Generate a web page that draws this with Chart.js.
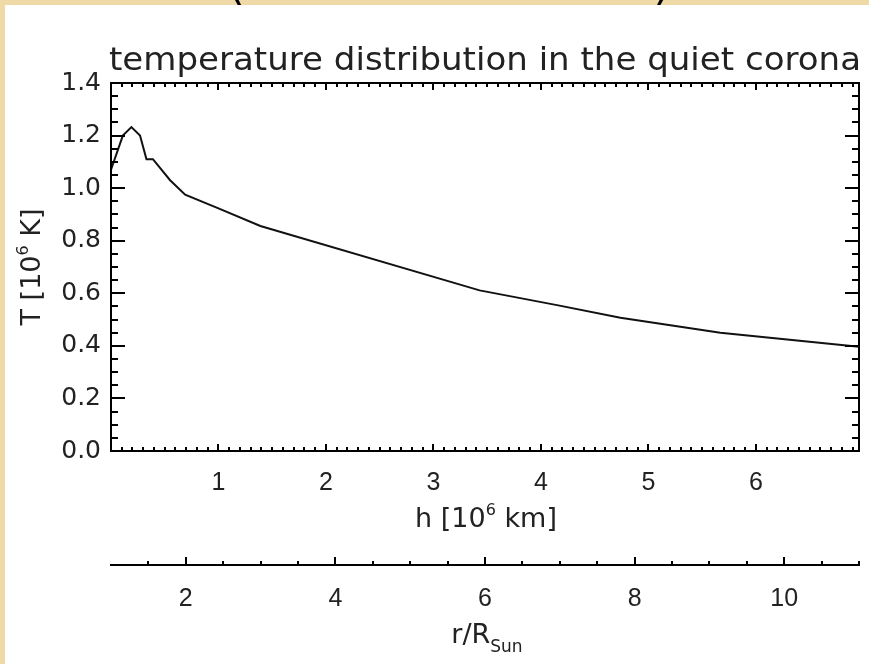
<!DOCTYPE html>
<html>
<head>
<meta charset="utf-8">
<script src="https://cdn.jsdelivr.net/npm/chart.js@4"></script>
<style>
  body { margin: 0; background: #efd9a7; }
  canvas { display: block; }
</style>
</head>
<body>
<canvas id="tempChart" width="869" height="664"></canvas>
<script>
// height above photosphere [10^6 km] and temperature [10^6 K]
const heightMm = [0.0, 0.11, 0.19, 0.27, 0.33, 0.39, 0.55, 0.69, 1.0, 1.39, 3.43, 4.15, 4.74, 5.67, 6.96];
const tempMK = [1.07, 1.20, 1.232, 1.20, 1.11, 1.11, 1.03, 0.975, 0.923, 0.856, 0.611, 0.555, 0.507, 0.45, 0.397];

const hTicks = [1, 2, 3, 4, 5, 6];
const rTicks = [2, 4, 6, 8, 10];
const tTicks = [0, 0.2, 0.4, 0.6, 0.8, 1.0, 1.2, 1.4];

const rSun = 0.696;      // 10^6 km
const hMax = 6.96;       // r/R_sun = 11
const chartTitle = "temperature distribution in the quiet corona";

const xTickFont = { family: "'Liberation Sans', 'DejaVu Sans', sans-serif", size: 25 };
const yTickFont = { family: "'DejaVu Sans', sans-serif", size: 25 };
const textFont = "'DejaVu Sans', sans-serif";

// text with super/subscript parts: [text, sizeFactor, shift]
function drawRich(ctx, parts, x, y, size, rotate) {
    ctx.save();
    ctx.translate(x, y);
    if (rotate) ctx.rotate(-Math.PI / 2);
    let total = 0;
    for (const p of parts) {
        ctx.font = `${Math.round(size * p[1])}px ${textFont}`;
        total += ctx.measureText(p[0]).width;
    }
    let cx = -total / 2;
    ctx.textAlign = "left";
    ctx.textBaseline = "alphabetic";
    for (const p of parts) {
        ctx.font = `${Math.round(size * p[1])}px ${textFont}`;
        ctx.fillText(p[0], cx, p[2] * size);
        cx += ctx.measureText(p[0]).width;
    }
    ctx.restore();
}

const idlFrame = {
    id: "idlFrame",
    beforeDraw(chart) {
        const ctx = chart.ctx;
        ctx.save();
        ctx.fillStyle = "#efd9a7";
        ctx.fillRect(0, 0, chart.width, chart.height);
        ctx.fillStyle = "#000";
        ctx.font = `44px ${textFont}`;
        ctx.textAlign = "center";
        ctx.fillText("(", 236, -1);
        ctx.fillText(")", 662, -1);
        ctx.fillStyle = "#fff";
        ctx.fillRect(5, 5, chart.width - 5, chart.height - 5);
        ctx.restore();
    },
    afterDraw(chart) {
        const ctx = chart.ctx;
        const a = chart.chartArea;
        const xs = chart.scales.x, ys = chart.scales.y, x2 = chart.scales.x2;
        ctx.save();
        ctx.strokeStyle = "#000";
        ctx.lineWidth = 2;
        ctx.strokeRect(a.left, a.top, a.right - a.left, a.bottom - a.top);
        ctx.beginPath();
        for (let i = 0; i <= 28; i++) {
            const py = Math.round(ys.getPixelForValue(i * 0.05));
            const len = i % 4 === 0 ? 14 : 7;
            ctx.moveTo(a.left, py); ctx.lineTo(a.left + len, py);
            ctx.moveTo(a.right, py); ctx.lineTo(a.right - len, py);
        }
        for (let i = 0; i * 0.1 <= hMax; i++) {
            const px = Math.round(xs.getPixelForValue(i * 0.1));
            const len = i % 10 === 0 ? 7 : 4;
            ctx.moveTo(px, a.bottom); ctx.lineTo(px, a.bottom - len);
            ctx.moveTo(px, a.top); ctx.lineTo(px, a.top + len);
        }
        for (let i = 3; i <= 22; i++) {
            const v = i * 0.5;
            const px = Math.round(x2.getPixelForValue(v));
            const len = v % 2 === 0 ? 8 : 4;
            ctx.moveTo(px, x2.top); ctx.lineTo(px, x2.top - len);
        }
        ctx.stroke();

        ctx.fillStyle = "#222";
        // title
        ctx.font = `32px ${textFont}`;
        ctx.textAlign = "center";
        ctx.textBaseline = "alphabetic";
        const w = ctx.measureText(chartTitle).width;
        ctx.translate((a.left + a.right) / 2, 70);
        ctx.scale(752 / w, 1);
        ctx.fillText(chartTitle, 0, 0);
        ctx.restore();

        ctx.save();
        ctx.fillStyle = "#222";
        drawRich(ctx, [["h [10", 1, 0], ["6", 0.6, -0.45], [" km]", 1, 0]], 486, 527, 27, false);
        drawRich(ctx, [["r/R", 1, 0], ["Sun", 0.62, 0.35]], 487, 643, 27, false);
        drawRich(ctx, [["T [10", 1, 0], ["6", 0.6, -0.45], [" K]", 1, 0]], 40, (a.top + a.bottom) / 2, 27, true);
        ctx.restore();
    }
};

const points = heightMm.map((h, i) => ({ x: h, y: tempMK[i] }));

new Chart(document.getElementById("tempChart"), {
    type: "scatter",
    data: {
        datasets: [{
            data: points,
            showLine: true,
            borderColor: "#111",
            borderWidth: 2,
            pointRadius: 0,
            tension: 0
        }]
    },
    options: {
        responsive: false,
        animation: false,
        devicePixelRatio: 1,
        layout: { padding: { top: 83, left: 0, right: 10, bottom: 0 } },
        plugins: { legend: { display: false }, tooltip: { enabled: false } },
        scales: {
            x: {
                type: "linear", position: "bottom", weight: 0,
                min: 0, max: hMax,
                afterBuildTicks: s => { s.ticks = hTicks.map(v => ({ value: v })); },
                afterFit: s => { s.height = 114; },
                grid: { display: false, drawTicks: false },
                border: { display: false },
                ticks: { font: xTickFont, color: "#222", padding: 17, maxRotation: 0 }
            },
            x2: {
                type: "linear", position: "bottom", weight: 1,
                min: 1, max: 1 + hMax / rSun,
                afterBuildTicks: s => { s.ticks = rTicks.map(v => ({ value: v })); },
                afterFit: s => { s.height = 99; },
                grid: { display: false, drawTicks: false },
                border: { display: true, color: "#000", width: 2 },
                ticks: { font: xTickFont, color: "#222", padding: 19, maxRotation: 0 }
            },
            y: {
                type: "linear", position: "left",
                min: 0, max: 1.4,
                afterBuildTicks: s => { s.ticks = tTicks.map(v => ({ value: v })); },
                afterFit: s => { s.width = 111; },
                grid: { display: false, drawTicks: false },
                border: { display: false },
                ticks: { font: yTickFont, color: "#222", padding: 10, callback: v => v.toFixed(1) }
            }
        }
    },
    plugins: [idlFrame]
});
</script>
</body>
</html>
